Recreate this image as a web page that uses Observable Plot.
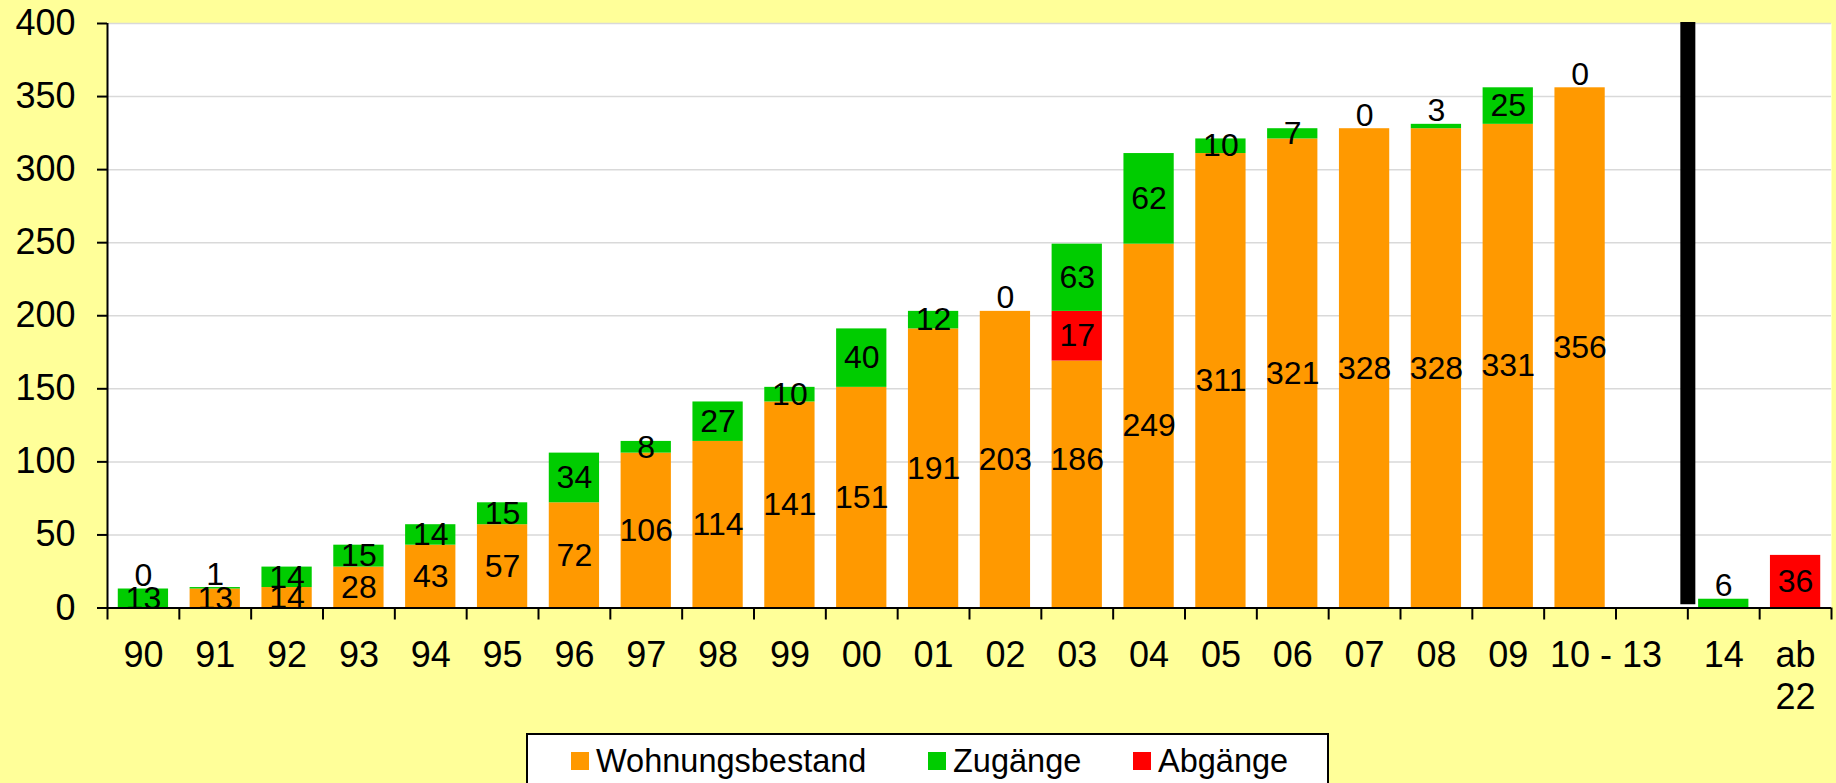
<!DOCTYPE html>
<html><head><meta charset="utf-8">
<script src="https://cdn.jsdelivr.net/npm/d3@7"></script>
<script src="https://cdn.jsdelivr.net/npm/@observablehq/plot@0.6"></script>
<style>
html,body{margin:0;padding:0;background:#FFFF99;overflow:hidden;width:1836px;height:783px;font-family:"Liberation Sans",Arial,sans-serif;}
#chart{position:absolute;left:0;top:0;}
#legend{position:absolute;left:526px;top:733px;width:799px;height:80px;border:2px solid #000;background:#fff;}
.item{position:absolute;top:8px;height:36px;display:flex;align-items:center;font-size:32.5px;color:#000;white-space:nowrap;}
.sw{width:18px;height:18px;margin-right:7px;}
</style>
</head><body>
<div id="chart"></div>
<div id="legend"></div>
<script>
const categories = ["90","91","92","93","94","95","96","97","98","99","00","01","02","03","04","05","06","07","08","09","10 - 13","gap","14","ab 22"];
const tickLabels = ["90","91","92","93","94","95","96","97","98","99","00","01","02","03","04","05","06","07","08","09","","","14","ab\n22"];
const shiftedLabel = "10 - 13";
// drawn segment heights
const bestand  = [0,13,14,28,43,57,72,106,114,141,151,191,203,169,249,311,321,328,328,331,356,null,null,null];
const abgaenge = [null,null,null,null,null,null,null,null,null,null,null,null,null,34,null,null,null,null,null,null,null,null,null,36];
const zugaenge = [13,1,14,15,14,15,34,8,27,10,40,12,0,46,62,10,7,0,3,25,0,null,6,null];
// displayed label texts
const bestandLabel  = [0,13,14,28,43,57,72,106,114,141,151,191,203,186,249,311,321,328,328,331,356,null,null,null];
const abgaengeLabel = [null,null,null,null,null,null,null,null,null,null,null,null,null,17,null,null,null,null,null,null,null,null,null,36];
const zugaengeLabel = [13,1,14,15,14,15,34,8,27,10,40,12,0,63,62,10,7,0,3,25,0,null,6,null];
const bestandLabelAt = {"03": 101.5};
const yTicks = [0,50,100,150,200,250,300,350,400];
const seriesNames = ["Wohnungsbestand","Abgänge","Zugänge"];
const seriesColors = {"Wohnungsbestand":"#FF9900","Zugänge":"#00CC00","Abgänge":"#FF0000"};
const legendOrder = ["Wohnungsbestand","Zugänge","Abgänge"];
const legendLeft = [43,400,605];

const values = {"Wohnungsbestand":bestand,"Abgänge":abgaenge,"Zugänge":zugaenge};
const labelsOf = {"Wohnungsbestand":bestandLabel,"Abgänge":abgaengeLabel,"Zugänge":zugaengeLabel};

const rows = [], labels = [];
categories.forEach((c,i)=>{
  let y0 = 0; const segs = [];
  for (const s of seriesNames){
    const v = values[s][i];
    if (v == null) continue;
    segs.push({cat:c, series:s, y1:y0, y2:y0+v, v, text: labelsOf[s][i]});
    y0 += v;
  }
  const top = y0;
  for (const g of segs){
    rows.push(g);
    let ly = (g.y1+g.y2)/2;
    if (g.v < 7) ly = top + 9;
    if (g.series==="Wohnungsbestand" && bestandLabelAt[c]!=null) ly = bestandLabelAt[c];
    labels.push({cat:c, ly, text:String(g.text)});
  }
});

const W=1836, H=733, mL=107, mR=5, mT=23, mB=125.5;
const step = (W-mL-mR)/categories.length;
const ypx = (400)/(H-mT-mB);

const plot = Plot.plot({
  width:W, height:H, marginLeft:mL, marginRight:mR, marginTop:mT, marginBottom:mB,
  style:{background:"transparent", fontFamily:"'Liberation Sans', Arial, sans-serif", color:"#000", overflow:"visible"},
  x:{domain:categories, paddingInner:0.3, paddingOuter:0.15, round:false, axis:null},
  y:{domain:[0,400], axis:null},
  marks:[
    Plot.frame({fill:"white", stroke:null}),
    Plot.gridY(yTicks.slice(1), {stroke:"#d9d9d9", strokeOpacity:1, strokeWidth:1.5}),
    Plot.rectY(rows, {x:"cat", y1:"y1", y2:"y2", fill:d=>seriesColors[d.series]}),
    Plot.ruleX(["gap"], {dx:step/2, y1:2.3, y2:400.6, stroke:"#000", strokeWidth:15}),
    Plot.text(labels, {x:"cat", y:"ly", text:"text", fontSize:32, fill:"#000"}),
    // axes lines
    Plot.ruleY([0], {stroke:"#000", strokeWidth:2}),
    Plot.ruleX([categories[0]], {dx:-step/2, y1:0, y2:400, stroke:"#000", strokeWidth:2}),
    Plot.ruleX(categories, {dx:-step/2, y1:0, y2:-12*ypx, stroke:"#000", strokeWidth:2}),
    Plot.ruleX([categories[categories.length-1]], {dx:step/2, y1:0, y2:-12*ypx, stroke:"#000", strokeWidth:2}),
    Plot.axisY({ticks:yTicks, tickSize:10, tickPadding:22, fontSize:36, stroke:"#000", strokeWidth:2, tickFormat:d=>String(d)}),
    Plot.text(categories, {x:d=>d, y:0, text:(d,i)=>tickLabels[i], lineAnchor:"top", lineHeight:1.17, dy:29.3, fontSize:36, fill:"#000"}),
    Plot.text([shiftedLabel], {x:d=>d, y:0, text:d=>d, lineAnchor:"top", lineHeight:1.17, dy:29.3, dx:26, fontSize:36, fill:"#000"})
  ]
});
document.getElementById("chart").appendChild(plot);

const leg = document.getElementById("legend");
legendOrder.forEach((s,i)=>{
  const it = document.createElement("div");
  it.className="item"; it.style.left = legendLeft[i]+"px";
  const sw = document.createElement("div"); sw.className="sw"; sw.style.background = seriesColors[s];
  const t = document.createElement("span"); t.textContent = s;
  it.appendChild(sw); it.appendChild(t); leg.appendChild(it);
});
</script>
</body></html>
